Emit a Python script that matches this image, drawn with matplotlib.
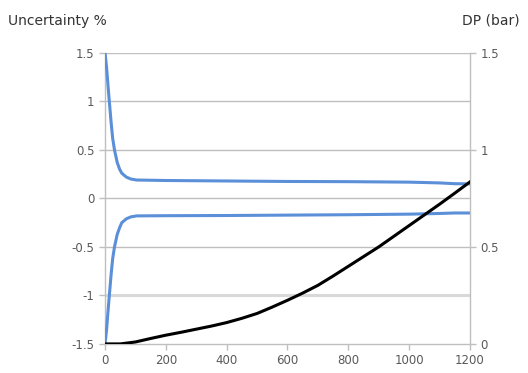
import matplotlib.pyplot as plt

# flow values and uncertainty band (left axis, %)
x_unc = [0, 5, 10, 14, 20, 25, 31, 40, 48, 55, 70, 85, 104, 200, 400, 600, 800, 1000, 1100, 1150, 1200]
unc_upper = [1.5, 1.35, 1.15, 1.0, 0.78, 0.62, 0.5, 0.37, 0.30, 0.26, 0.22, 0.20, 0.19, 0.185, 0.18, 0.175, 0.173, 0.168, 0.16, 0.152, 0.15]
unc_lower = [-1.5, -1.35, -1.15, -1.0, -0.78, -0.62, -0.5, -0.37, -0.30, -0.25, -0.21, -0.19, -0.18, -0.178, -0.176, -0.172, -0.168, -0.162, -0.155, -0.15, -0.15]

# differential pressure (right axis, bar)
x_dp = [0, 50, 100, 150, 200, 250, 300, 350, 400, 450, 500, 550, 600, 650, 700, 750,
        800, 850, 900, 950, 1000, 1050, 1100, 1150, 1200]
dp = [0.0, 0.0, 0.01, 0.028, 0.045, 0.06, 0.076, 0.092, 0.11, 0.132, 0.157, 0.19, 0.225,
      0.262, 0.302, 0.35, 0.40, 0.45, 0.50, 0.555, 0.61, 0.665, 0.72, 0.777, 0.835]

grey_txt = '#595959'
grid_col = '#bfbfbf'

fig = plt.figure(figsize=(5.28, 3.73), dpi=100)
ax = fig.add_axes([0.199, 0.078, 0.691, 0.780])

for yv in [-1, -0.5, 0, 0.5, 1, 1.5]:
    if yv == -1:
        ax.axhline(yv, color='#d9d9d9', lw=2.2, zorder=0)
    else:
        ax.axhline(yv, color=grid_col, lw=1.0, zorder=0)

ax.plot(x_unc, unc_upper, color='#5b8fd8', lw=2.2, zorder=3)
ax.plot(x_unc, unc_lower, color='#5b8fd8', lw=2.2, zorder=3)

ax.set_xlim(0, 1200)
ax.set_ylim(-1.5, 1.5)
ax.set_xticks(range(0, 1201, 200))
ax.set_yticks([-1.5, -1, -0.5, 0, 0.5, 1, 1.5])
ax.set_yticklabels(['-1.5', '-1', '-0.5', '0', '0.5', '1', '1.5'])

ax2 = ax.twinx()
ax2.plot(x_dp, dp, color='black', lw=2.2, zorder=4)
ax2.set_ylim(0, 1.5)
ax2.set_yticks([0, 0.5, 1, 1.5])
ax2.set_yticklabels(['0', '0.5', '1', '1.5'])

for a in (ax, ax2):
    a.spines['top'].set_visible(False)
    for side in ['left', 'right', 'bottom']:
        a.spines[side].set_color(grid_col)
        a.spines[side].set_linewidth(1.0)
    a.tick_params(colors=grey_txt, labelsize=8.5, length=4, width=1, color=grid_col)

ax.spines['right'].set_visible(False)
ax2.spines['left'].set_visible(False)
ax2.spines['bottom'].set_visible(False)

fig.text(0.015, 0.945, 'Uncertainty %', fontsize=10, color='#333333', ha='left', va='center')
fig.text(0.985, 0.945, 'DP (bar)', fontsize=10, color='#333333', ha='right', va='center')

fig.savefig('out.png', dpi=100)
